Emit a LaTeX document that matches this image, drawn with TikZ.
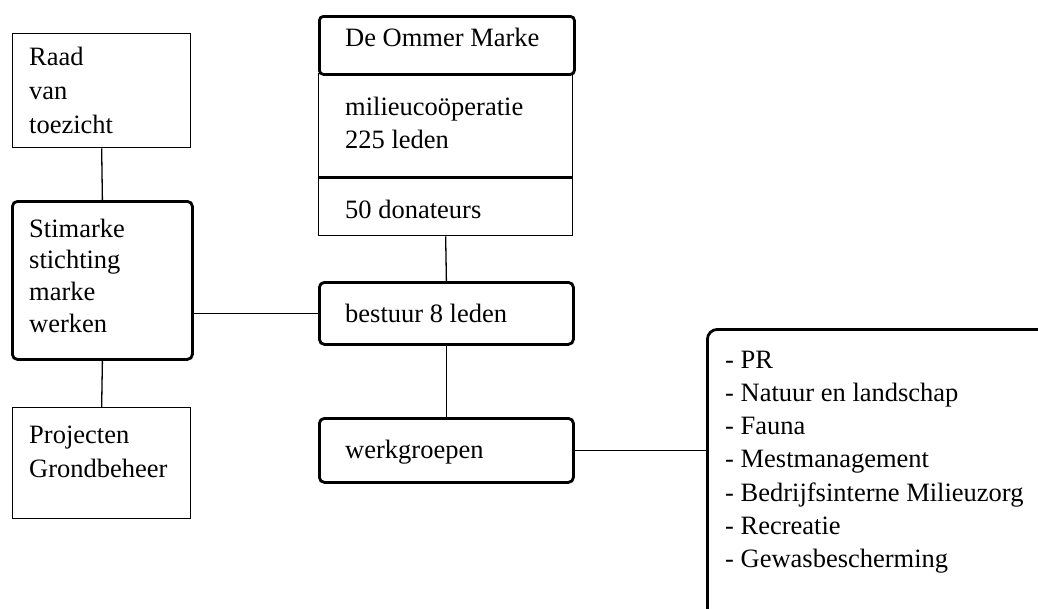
\documentclass[tikz,border=0pt]{standalone}
\usepackage{fontspec}
\setmainfont{Liberation Serif}
\newcommand\boxtext[2]{\fontsize{26.5}{#1}\selectfont\begin{tabular}[t]{@{}l@{}}#2\end{tabular}}
\begin{document}
\begin{tikzpicture}[x=1pt,y=-1pt,
  thinbox/.style={draw=black,line width=1.3pt,inner sep=0pt,anchor=north west},
  thickbox/.style={draw=black,line width=2.8pt,rounded corners=5pt,inner sep=0pt,anchor=north west},
  txt/.style={inner sep=0pt,anchor=base west},
  conn/.style={draw=black,line width=1.3pt}]
\useasboundingbox (0,0) rectangle (1038,608);
\clip (0,0) rectangle (1038,608);
% left column
\node[thinbox,minimum width=178pt,minimum height=114pt] (raad) at (12,33) {};
\node[thickbox,minimum width=180pt,minimum height=158pt] (stim) at (11,200) {};
\node[thinbox,minimum width=178pt,minimum height=111pt] (proj) at (12,407) {};
\node[txt] (raadt) at (29,65) {\boxtext{34}{Raad\\van\\toezicht}};
\node[txt] (stimt) at (29,237) {\boxtext{31.7}{Stimarke\\stichting\\marke\\werken}};
\node[txt] (projt) at (29,443) {\boxtext{34}{Projecten\\Grondbeheer}};
% centre column
\node[thinbox,minimum width=254pt,minimum height=103pt] (mil) at (318,73) {};
\node[thinbox,minimum width=254pt,minimum height=59pt] (don) at (318,176) {};
\node[thickbox,rounded corners=4pt,minimum width=255pt,minimum height=58pt] (dom) at (318,15) {};
\draw[line width=2.4pt] (mil.south west) -- (mil.south east);
\node[thickbox,minimum width=254pt,minimum height=62pt] (best) at (318,281) {};
\node[thickbox,minimum width=254pt,minimum height=64pt] (werk) at (318,417) {};
\node[txt] (domt) at (345,46) {\boxtext{33}{De Ommer Marke}};
\node[txt] (milt) at (345,115) {\boxtext{33}{milieucoöperatie\\225 leden}};
\node[txt] (dont) at (345,218) {\boxtext{33}{50 donateurs}};
\node[txt] (bestt) at (345,322) {\boxtext{33}{bestuur 8 leden}};
\node[txt] (werkt) at (345,458) {\boxtext{33}{werkgroepen}};
% right list
\node[thickbox,rounded corners=10pt,minimum width=350pt,minimum height=300pt] (list) at (706,328) {};
\node[txt] (listt) at (725,368) {\boxtext{33.3}{- PR\\- Natuur en landschap\\- Fauna\\- Mestmanagement\\- Bedrijfsinterne Milieuzorg\\- Recreatie\\- Gewasbescherming}};
% connectors
\draw[conn] (raad.south) -- (stim.north);
\draw[conn] (stim.south) -- (proj.north);
\draw[conn] (best.west) -- (best.west -| stim.east);
\draw[conn] (don.south) -- (best.north);
\draw[conn] (best.south) -- (werk.north);
\draw[conn] (werk.east) -- (werk.east -| list.west);
\end{tikzpicture}
\end{document}
